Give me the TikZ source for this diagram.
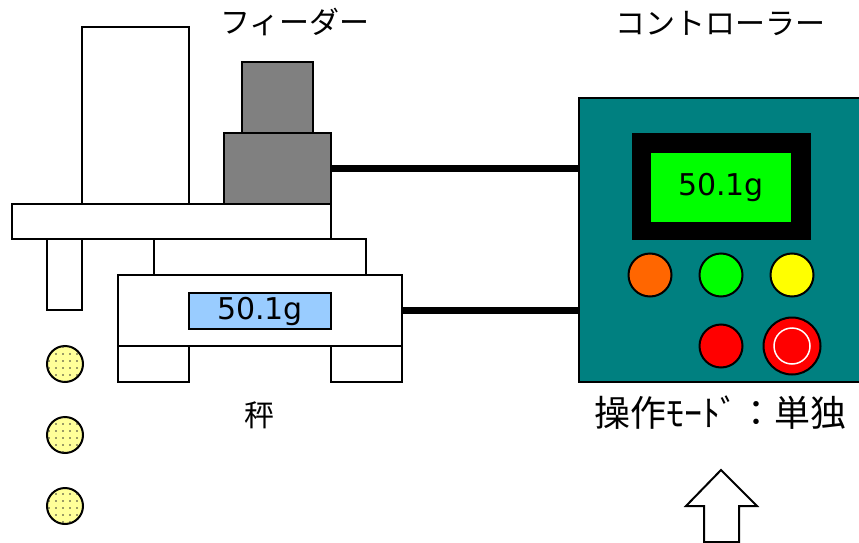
\documentclass[tikz,border=0pt]{standalone}
\usepackage{fontspec}
\setmainfont{DejaVu Sans}
\newfontfamily\jp{Noto Sans CJK JP}
\usepackage{tikz}
\usetikzlibrary{patterns.meta}
\definecolor{panel}{HTML}{008080}
\definecolor{motor}{HTML}{808080}
\definecolor{lcdblue}{HTML}{99CCFF}
\definecolor{lcdgreen}{HTML}{00FF00}
\definecolor{lamporange}{HTML}{FF6600}
\definecolor{lampyellow}{HTML}{FFFF00}
\definecolor{lampred}{HTML}{FF0000}
\definecolor{coinfill}{HTML}{FFFF99}

\tikzset{
  part/.style={draw, line width=2pt, fill=white, inner sep=0pt, outer sep=0pt},
  lamp/.style={circle, draw, line width=2pt, inner sep=0pt, minimum size=43pt},
  coin/.style={circle, draw, line width=2pt, inner sep=0pt, minimum size=36pt, fill=coinfill,
    postaction={pattern={Dots[distance=7pt, radius=0.9pt]}, pattern color=black!80}},
  cable/.style={line width=7pt},
  lcd/.style={inner sep=0pt, font=\fontsize{30}{30}\selectfont},
  caption/.style={font=\jp\fontsize{30}{30}\selectfont}
}

\begin{document}
\begin{tikzpicture}[x=1pt, y=-1pt]
\clip (0,0) rectangle (859,543);
\fill [white] (0,0) rectangle (859,543);

% feeder side
\node [part, minimum width=107pt, minimum height=177pt] (tower) at (135.5,115.5) {};
\node [part, fill=motor, minimum width=71pt, minimum height=71pt] (motortop) at (277.5,97.5) {};
\node [part, fill=motor, minimum width=107pt, minimum height=71pt] (motorbase) at (277.5,168.5) {};
\node [part, minimum width=319pt, minimum height=35pt] (plate) at (171.5,221.5) {};
\node [part, minimum width=35pt, minimum height=71pt] (chute) at (64.5,274.5) {};
\node [caption] (feederlabel) at (295,22) {フィーダー};

% scale
\node [part, minimum width=212pt, minimum height=36pt] (pan) at (260,257) {};
\node [part, minimum width=284pt, minimum height=71pt] (scalebody) at (260,310.5) {};
\node [part, fill=lcdblue, minimum width=142pt, minimum height=36pt, lcd] (scaledisp) at (260,311) {50.1g};
\node [part, minimum width=71pt, minimum height=36pt] (footL) at (153.5,364) {};
\node [part, minimum width=71pt, minimum height=36pt] (footR) at (366.5,364) {};
\node [caption] (scalelabel) at (259,415) {秤};

% falling parts
\foreach \y [count=\i] in {364,435,506}
  \node [coin] (coin\i) at (65,\y) {};

% controller
\node [part, fill=panel, minimum width=283pt, minimum height=284pt] (ctrl) at (720.5,240) {};
\node [fill=black, inner sep=0pt, minimum width=179pt, minimum height=107pt] (bezel) at (721.5,186.5) {};
\node [fill=lcdgreen, lcd, minimum width=140pt, minimum height=69pt] (ctrldisp) at (721,187.5) {50.1g};
\node [lamp, fill=lamporange] (lampA) at (650,275) {};
\node [lamp, fill=lcdgreen] (lampB) at (721,275) {};
\node [lamp, fill=lampyellow] (lampC) at (792,275) {};
\node [lamp, fill=lampred] (stop) at (721,346) {};
\node [lamp, fill=lampred, minimum size=57pt] (estop) at (792,346) {};
\draw [white, line width=1.5pt] (estop.center) circle (18pt);
\node [caption] (ctrllabel) at (720,24) {コントローラー};
\node [caption, font=\jp\fontsize{36}{36}\selectfont] (modelabel) at (720,413) {操作ﾓｰﾄﾞ：単独};

% cables
\draw [cable] (motorbase.east) -- (motorbase.east -| ctrl.west);
\draw [cable] (scalebody.east) -- (scalebody.east -| ctrl.west);

% arrow
\draw [line width=2pt, fill=white] (721,470) -- (757,506) -- (739,506) -- (739,542)
  -- (704,542) -- (704,506) -- (686,506) -- cycle;
\end{tikzpicture}
\end{document}
